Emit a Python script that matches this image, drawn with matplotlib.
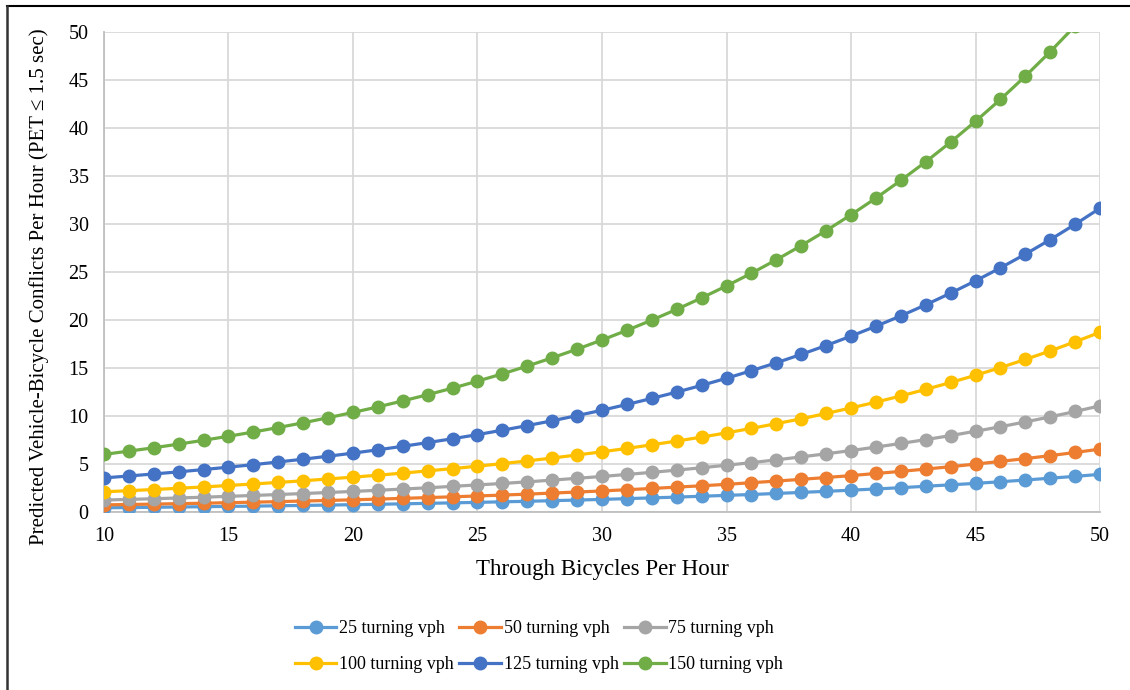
import matplotlib.pyplot as plt
from matplotlib.lines import Line2D

plt.rcParams['font.family'] = ['Liberation Serif', 'DejaVu Serif']

bikes = list(range(10, 51))

vph25 = [0.44, 0.46, 0.49, 0.52, 0.55, 0.58, 0.61, 0.65, 0.68, 0.72,
         0.76, 0.80, 0.85, 0.90, 0.95, 1.00, 1.06, 1.11, 1.18, 1.24,
         1.31, 1.39, 1.47, 1.55, 1.64, 1.73, 1.82, 1.93, 2.04, 2.15,
         2.27, 2.40, 2.53, 2.68, 2.83, 2.98, 3.15, 3.33, 3.52, 3.71, 3.92]
vph50 = [0.74, 0.78, 0.82, 0.87, 0.91, 0.97, 1.02, 1.08, 1.14, 1.20,
         1.27, 1.34, 1.42, 1.50, 1.58, 1.67, 1.76, 1.86, 1.97, 2.08,
         2.19, 2.32, 2.45, 2.59, 2.73, 2.88, 3.05, 3.22, 3.40, 3.59,
         3.79, 4.01, 4.23, 4.47, 4.72, 4.99, 5.27, 5.56, 5.87, 6.20, 6.55]
vph75 = [1.24, 1.31, 1.38, 1.46, 1.54, 1.63, 1.72, 1.82, 1.92, 2.03,
         2.14, 2.26, 2.39, 2.52, 2.67, 2.82, 2.97, 3.14, 3.32, 3.51,
         3.70, 3.91, 4.13, 4.36, 4.61, 4.87, 5.14, 5.43, 5.74, 6.06,
         6.40, 6.76, 7.14, 7.54, 7.96, 8.41, 8.88, 9.38, 9.91, 10.47, 11.06]
vph100 = [2.10, 2.22, 2.34, 2.47, 2.61, 2.76, 2.92, 3.08, 3.25, 3.44,
          3.63, 3.83, 4.05, 4.28, 4.52, 4.77, 5.04, 5.32, 5.62, 5.94,
          6.27, 6.62, 7.00, 7.39, 7.80, 8.24, 8.71, 9.20, 9.71, 10.26,
          10.84, 11.44, 12.09, 12.77, 13.49, 14.24, 15.04, 15.89, 16.78, 17.73, 18.72]
vph125 = [3.55, 3.75, 3.96, 4.18, 4.42, 4.67, 4.93, 5.21, 5.50, 5.81,
          6.13, 6.48, 6.84, 7.23, 7.63, 8.06, 8.52, 9.00, 9.50, 10.04,
          10.60, 11.20, 11.83, 12.49, 13.19, 13.93, 14.72, 15.54, 16.42, 17.34,
          18.32, 19.35, 20.43, 21.58, 22.80, 24.08, 25.43, 26.86, 28.37, 29.97, 31.65]
vph150 = [6.00, 6.34, 6.69, 7.07, 7.47, 7.89, 8.33, 8.80, 9.29, 9.82,
          10.37, 10.95, 11.57, 12.22, 12.90, 13.63, 14.39, 15.20, 16.06, 16.96,
          17.92, 18.92, 19.99, 21.11, 22.30, 23.55, 24.87, 26.27, 27.75, 29.31,
          30.96, 32.70, 34.54, 36.48, 38.53, 40.70, 42.98, 45.40, 47.95, 50.65, 53.50]

series = [vph25, vph50, vph75, vph100, vph125, vph150]
labels = ['25 turning vph', '50 turning vph', '75 turning vph',
          '100 turning vph', '125 turning vph', '150 turning vph']
colors = ['#5B9BD5', '#ED7D31', '#A5A5A5', '#FFC000', '#4472C4', '#70AD47']

fig = plt.figure(figsize=(11.3, 6.9), dpi=100)
ax = fig.add_axes([0.092, 0.258, 0.8815, 0.6956])

for vals, lab, col in zip(series, labels, colors):
    ax.plot(bikes, vals, label=lab, color=col, linewidth=2.3,
            marker='o', markersize=9, zorder=3)

ax.set_xlim(10, 50)
ax.set_ylim(0, 50)
ax.set_xticks(range(10, 51, 5))
ax.set_yticks(range(0, 51, 5))
ax.grid(True, color='#D9D9D9', linewidth=1.3, zorder=0)
for side in ['top', 'right']:
    ax.spines[side].set_visible(False)
for side in ['left', 'bottom']:
    ax.spines[side].set_color('#BFBFBF')
    ax.spines[side].set_linewidth(1.3)
ax.tick_params(length=0, labelsize=14.5)
ax.tick_params(axis='y', pad=11)
ax.tick_params(axis='x', pad=11)

ax.set_xlabel('Through Bicycles Per Hour', fontsize=16.5, labelpad=9)
ax.set_ylabel('Predicted Vehicle-Bicycle Conflicts Per Hour (PET ≤ 1.5 sec)',
              fontsize=15)
# the original label sits a bit below the middle of the axis
ax.yaxis.set_label_coords(-0.055, 0.469)

# legend in two rows of three, filled row by row like the original
handles = [Line2D([], [], color=c, linewidth=2.3, marker='o', markersize=9)
           for c in colors]
order = [0, 3, 1, 4, 2, 5]
fig.legend([handles[i] for i in order], [labels[i] for i in order],
           loc='center', bbox_to_anchor=(0.477, 0.0625),
           ncol=3, frameon=False, fontsize=13, handlelength=2.3,
           handletextpad=0.15, columnspacing=0.3, labelspacing=1.05)

# outer frame lines (top and left are all that show)
fig.add_artist(Line2D([0.006, 1.0], [0.992, 0.992], color='black', linewidth=1.5))
fig.add_artist(Line2D([0.0065, 0.0065], [0.0, 0.992], color='#333333', linewidth=1.8))

fig.savefig('out.png', dpi=100)
